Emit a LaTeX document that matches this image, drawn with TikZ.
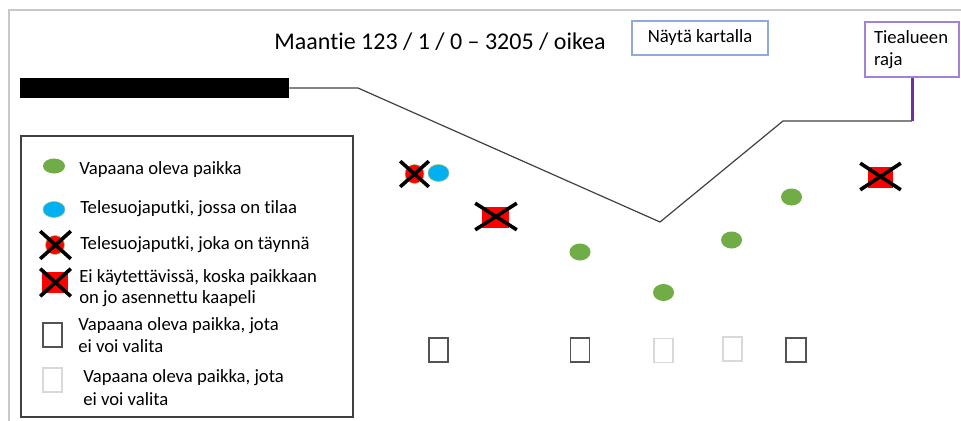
\documentclass[tikz,border=0pt]{standalone}
\usepackage{fontspec}
\setmainfont{Carlito}[Ligatures={NoCommon}]
\usetikzlibrary{shapes.geometric,shapes.misc}
\newlength\pxu
\setlength\pxu{0.75pt}
\definecolor{grn}{HTML}{70AD47}
\definecolor{cyanblue}{HTML}{00B0F0}
\definecolor{edge}{HTML}{404040}
\definecolor{framegrey}{HTML}{C8C8C8}
\definecolor{mapblue}{HTML}{8FAADC}
\definecolor{boxpurple}{HTML}{A382D6}
\definecolor{limit}{HTML}{7030A0}
\definecolor{faint}{HTML}{D9D9D9}
\tikzset{
  freeslot/.style={ellipse, fill=grn, inner sep=0, minimum width=21\pxu, minimum height=17\pxu},
  ductroom/.style={ellipse, fill=cyanblue, draw=grn!70, line width=0.6\pxu, inner sep=0, minimum width=21\pxu, minimum height=17\pxu},
  ductfull/.style={circle, fill=red, draw=grn!70, line width=0.6\pxu, inner sep=0, minimum size=19\pxu},
  taken/.style={rectangle, fill=red, inner sep=0, minimum width=26\pxu, minimum height=21\pxu},
  crossmark/.style 2 args={cross out, draw=black, line width=3.6\pxu, inner sep=0, minimum width=#1\pxu, minimum height=#2\pxu},
  lockedslot/.style={rectangle, draw=edge!90, line width=1.4\pxu, inner sep=0, minimum width=19\pxu, minimum height=24\pxu},
  hiddenslot/.style={rectangle, draw=faint, line width=1.4\pxu, inner sep=0, minimum width=19\pxu, minimum height=24\pxu},
  legtext/.style={anchor=base west, inner sep=0, font=\fontsize{14}{16.5}\selectfont},
  road/.style={draw=edge, line width=1.2\pxu},
}
\begin{document}
\begin{tikzpicture}[x=0.75pt, y=-0.75pt]
  \useasboundingbox (0,0) rectangle (961,421);
  % page frame
  \draw[framegrey, line width=2\pxu] (8.5,421) -- (8.5,9.5) -- (961,9.5);

  % title and buttons
  \node[anchor=base, inner sep=0, font=\fontsize{18}{22}\selectfont] (title) at (440,49) {Maantie 123 / 1 / 0 – 3205 / oikea};
  \node[draw=mapblue, line width=1.2\pxu, minimum width=136\pxu, minimum height=34\pxu, inner sep=0, font=\fontsize{14}{16.5}\selectfont] (map) at (700,38) {Näytä kartalla};
  \node[draw=boxpurple, line width=1.4\pxu, minimum width=94\pxu, minimum height=55\pxu, inner sep=0, text width=76\pxu, align=left, font=\fontsize{14}{16.5}\selectfont] (tie) at (912,49.5) {Tiealueen\\raja};

  % road surface and cross-section profile
  \node[fill=black, inner sep=0, minimum width=269\pxu, minimum height=20\pxu] (bar) at (154.5,88) {};
  \coordinate (p1) at (358,88);
  \coordinate (p2) at (660,222);
  \coordinate (p3) at (783,121);
  \coordinate (p4) at (912,121);
  \draw[road] (bar.east) -- (p1) -- (p2) -- (p3) -- (p4);
  \draw[limit, line width=3\pxu] (tie.south) -- (p4);

  % cable positions
  \node[ductfull] (d1) at (414.5,174) {};
  \node[crossmark={25}{22}] (d1x) at (414.5,174) {};
  \node[ductroom] (d2) at (438.5,173) {};
  \node[taken, minimum width=27\pxu] (t1) at (495.5,217.5) {};
  \node[crossmark={38}{23}] (t1x) at (496,216.5) {};
  \node[freeslot] (f1) at (580,252) {};
  \node[freeslot] (f2) at (663.5,292.5) {};
  \node[freeslot] (f3) at (731.5,240) {};
  \node[freeslot] (f4) at (791.5,197) {};
  \node[taken, minimum width=25\pxu] (t2) at (880.5,177.5) {};
  \node[crossmark={37}{23}] (t2x) at (880.5,176.5) {};
  \node[lockedslot] (l1) at (438.5,350) {};
  \node[lockedslot] (l2) at (580,350) {};
  \node[hiddenslot] (h1) at (663.5,350.5) {};
  \node[hiddenslot] (h2) at (732.5,349) {};
  \node[lockedslot, minimum width=20\pxu] (l3) at (796,350) {};

  % legend
  \node[draw=edge, line width=1.5\pxu, inner sep=0, minimum width=332\pxu, minimum height=281\pxu] (legend) at (187,276.5) {};
  \node[freeslot, minimum width=22\pxu, minimum height=15\pxu] (k1) at (54,166) {};
  \node[legtext] (k1t) at (79,174) {Vapaana oleva paikka};
  \node[ductroom, minimum width=22\pxu, minimum height=16\pxu] (k2) at (54,209.5) {};
  \node[legtext] (k2t) at (80,213) {Telesuojaputki, jossa on tilaa};
  \node[ductfull] (k3) at (55,245) {};
  \node[crossmark={27}{24}] (k3x) at (55.5,245) {};
  \node[legtext] (k3t) at (80,249) {Telesuojaputki, joka on täynnä};
  \node[taken] (k4) at (55,282.5) {};
  \node[crossmark={27}{24}] (k4x) at (55.5,282.5) {};
  \node[legtext] (k4t) at (79,282) {Ei käytettävissä, koska paikkaan};
  \node[legtext] (k4u) at (79,303.5) {on jo asennettu kaapeli};
  \node[lockedslot] (k5) at (52.5,335) {};
  \node[legtext] (k5t) at (78,330) {Vapaana oleva paikka, jota};
  \node[legtext] (k5u) at (78,352) {ei voi valita};
  \node[hiddenslot] (k6) at (52.5,380) {};
  \node[legtext] (k6t) at (83,382.5) {Vapaana oleva paikka, jota};
  \node[legtext] (k6u) at (83,405) {ei voi valita};
\end{tikzpicture}
\end{document}
